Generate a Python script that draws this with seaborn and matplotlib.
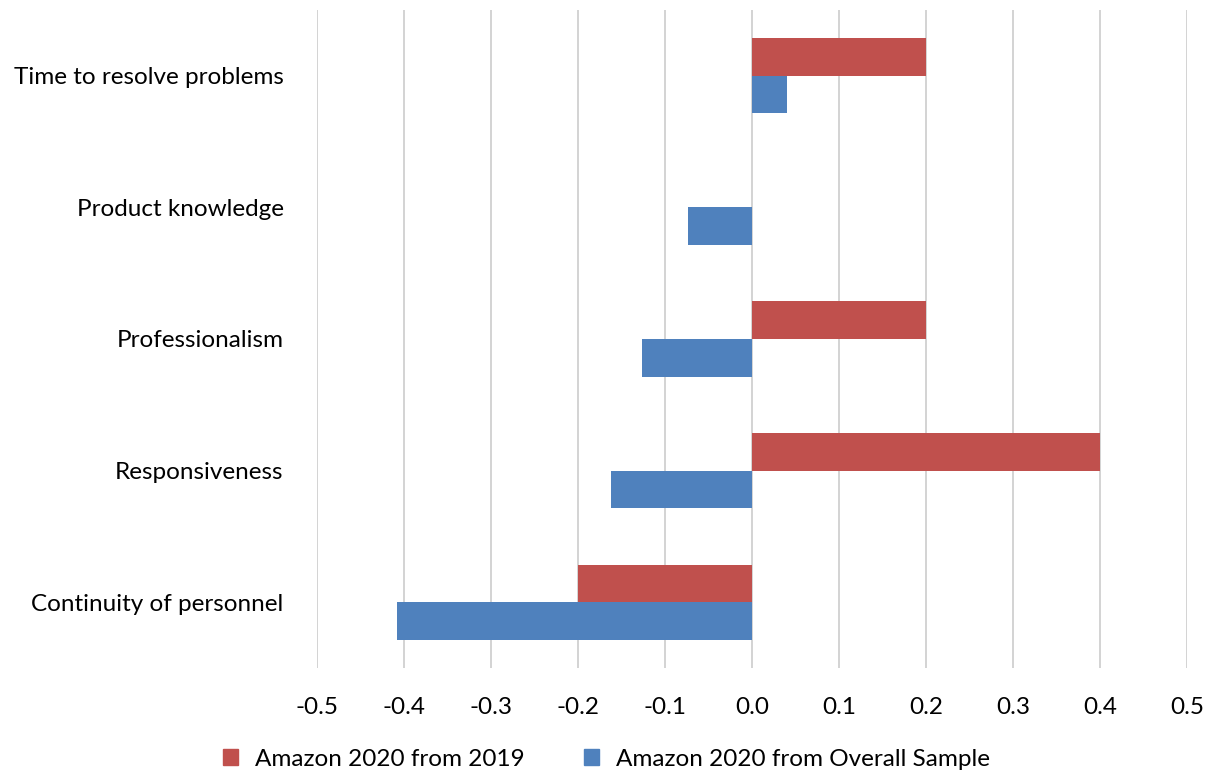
import matplotlib
matplotlib.use("Agg")
import matplotlib.pyplot as plt
import seaborn as sns
import pandas as pd

categories = ["Time to resolve problems", "Product knowledge", "Professionalism",
              "Responsiveness", "Continuity of personnel"]
series_names = ["Amazon 2020 from 2019", "Amazon 2020 from Overall Sample"]
from_2019 = [0.2, 0.0, 0.2, 0.4, -0.2]
from_overall = [0.04, -0.074, -0.126, -0.162, -0.408]
x_ticks = [-0.5, -0.4, -0.3, -0.2, -0.1, 0.0, 0.1, 0.2, 0.3, 0.4, 0.5]
colors = ["#C0504D", "#4F81BD"]

df = pd.DataFrame({
    "category": categories * 2,
    "series": [series_names[0]] * len(categories) + [series_names[1]] * len(categories),
    "value": from_2019 + from_overall,
})

sns.set_theme(style="white")
plt.rcParams["font.family"] = ["Lato", "DejaVu Sans"]

fig = plt.figure(figsize=(12.13, 7.72), dpi=100)
ax = fig.add_axes([317 / 1213, 1 - 668 / 772, 870 / 1213, 658 / 772])

sns.barplot(data=df, y="category", x="value", hue="series", order=categories,
            hue_order=series_names, palette=colors, orient="h", width=0.57,
            saturation=1, ax=ax, legend=False, errorbar=None, zorder=3,
            linewidth=0)

ax.set_xlim(-0.5, 0.5)
ax.set_xticks(x_ticks)
ax.set_xticklabels([f"{t:.1f}" for t in x_ticks], fontsize=17.5, color="#000000")
ax.tick_params(axis="x", length=0, pad=21)
ax.tick_params(axis="y", length=0, pad=24, labelsize=17.5, labelcolor="#000000")
ax.xaxis.grid(True, color="#D0D0D0", linewidth=1.3, zorder=0)
ax.yaxis.grid(False)
for s in ax.spines.values():
    s.set_visible(False)
ax.set_xlabel("")
ax.set_ylabel("")

handles = [plt.Rectangle((0, 0), 1, 1, color=c) for c in colors]
leg = fig.legend(handles, series_names, loc="center", bbox_to_anchor=(0.5, 1 - 759 / 772),
                 ncol=2, frameon=False, fontsize=17.5, handlelength=0.6, handleheight=0.6,
                 handletextpad=0.7, columnspacing=2.45)
for t in leg.get_texts():
    t.set_color("#000000")

fig.savefig("out.png", dpi=100)
